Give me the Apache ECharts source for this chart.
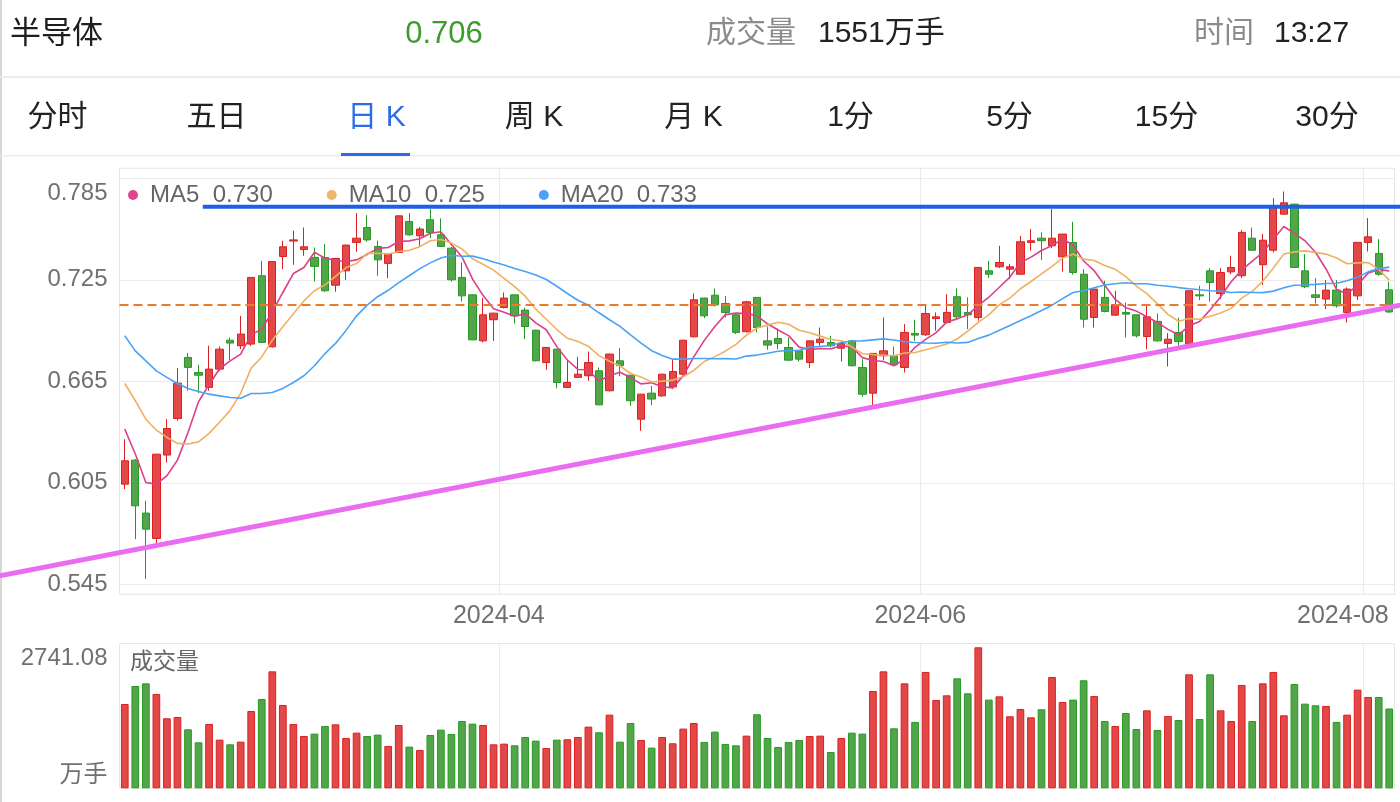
<!DOCTYPE html>
<html><head><meta charset="utf-8">
<script src="https://cdn.jsdelivr.net/npm/echarts@6/dist/echarts.min.js"></script>
<style>html,body{margin:0;padding:0;background:#fff;overflow:hidden}#c{width:1400px;height:802px}</style>
</head><body><div id="c"></div><script>
// ---- data ----
const dates = [
'2024-02-01','2024-02-02','2024-02-05','2024-02-06','2024-02-07','2024-02-08',
'2024-02-19','2024-02-20','2024-02-21','2024-02-22','2024-02-23','2024-02-26','2024-02-27','2024-02-28','2024-02-29',
'2024-03-01','2024-03-04','2024-03-05','2024-03-06','2024-03-07','2024-03-08','2024-03-11','2024-03-12','2024-03-13','2024-03-14','2024-03-15',
'2024-03-18','2024-03-19','2024-03-20','2024-03-21','2024-03-22','2024-03-25','2024-03-26','2024-03-27','2024-03-28','2024-03-29',
'2024-04-01','2024-04-02','2024-04-03','2024-04-08','2024-04-09','2024-04-10','2024-04-11','2024-04-12','2024-04-15','2024-04-16',
'2024-04-17','2024-04-18','2024-04-19','2024-04-22','2024-04-23','2024-04-24','2024-04-25','2024-04-26','2024-04-29','2024-04-30',
'2024-05-06','2024-05-07','2024-05-08','2024-05-09','2024-05-10','2024-05-13','2024-05-14','2024-05-15','2024-05-16','2024-05-17',
'2024-05-20','2024-05-21','2024-05-22','2024-05-23','2024-05-24','2024-05-27','2024-05-28','2024-05-29','2024-05-30','2024-05-31',
'2024-06-03','2024-06-04','2024-06-05','2024-06-06','2024-06-07','2024-06-11','2024-06-12','2024-06-13','2024-06-14','2024-06-17',
'2024-06-18','2024-06-19','2024-06-20','2024-06-21','2024-06-24','2024-06-25','2024-06-26','2024-06-27','2024-06-28',
'2024-07-01','2024-07-02','2024-07-03','2024-07-04','2024-07-05','2024-07-08','2024-07-09','2024-07-10','2024-07-11','2024-07-12',
'2024-07-15','2024-07-16','2024-07-17','2024-07-18','2024-07-19','2024-07-22','2024-07-23','2024-07-24','2024-07-25','2024-07-26',
'2024-07-29','2024-07-30','2024-07-31','2024-08-01','2024-08-02','2024-08-05'];

const opens = [0.6042,0.6184,0.5871,0.5721,0.6214,0.6430,0.6791,0.6702,0.6614,0.6722,
0.6893,0.6860,0.6870,0.7274,0.6854,0.7388,0.7479,0.7429,0.7382,0.7382,
0.7218,0.7303,0.7471,0.7559,0.7447,0.7347,0.7412,0.7595,0.7510,0.7605,
0.7516,0.7437,0.7264,0.7161,0.6889,0.7014,0.7086,0.7161,0.7071,0.6952,
0.6761,0.6840,0.6614,0.6673,0.6683,0.6712,0.6594,0.6771,0.6686,0.6426,
0.6580,0.6564,0.6617,0.6692,0.6913,0.7142,0.7159,0.7110,0.7043,0.6943,
0.7146,0.6889,0.6903,0.6850,0.6830,0.6761,0.6880,0.6880,0.6846,0.6889,
0.6732,0.6580,0.6801,0.6801,0.6732,0.6933,0.6925,0.7021,0.6998,0.7150,
0.7057,0.7027,0.7303,0.7327,0.7313,0.7283,0.7471,0.7496,0.7451,0.7386,
0.7471,0.7283,0.7027,0.7146,0.7041,0.7057,0.7043,0.6915,0.7004,0.6874,
0.6939,0.6870,0.7161,0.7303,0.7169,0.7297,0.7274,0.7496,0.7339,0.7425,
0.7638,0.7697,0.7303,0.7161,0.7136,0.7189,0.7057,0.7155,0.7471,0.7406,0.7191];

const closes = [0.6180,0.5914,0.5776,0.6219,0.6371,0.6639,0.6732,0.6686,0.6722,0.6840,
0.6876,0.6929,0.7264,0.6880,0.7358,0.7445,0.7486,0.7445,0.7329,0.7185,
0.7376,0.7455,0.7496,0.7486,0.7368,0.7402,0.7628,0.7516,0.7550,0.7530,
0.7447,0.7250,0.7155,0.6895,0.7043,0.7053,0.7142,0.7037,0.6974,0.6771,
0.6850,0.6643,0.6643,0.6692,0.6761,0.6511,0.6811,0.6742,0.6535,0.6574,
0.6545,0.6692,0.6708,0.6893,0.7132,0.7037,0.7102,0.7057,0.6939,0.7120,
0.6968,0.6864,0.6874,0.6775,0.6781,0.6889,0.6899,0.6860,0.6874,0.6742,
0.6574,0.6815,0.6830,0.6748,0.6939,0.6923,0.7051,0.7031,0.7057,0.7031,
0.7043,0.7323,0.7283,0.7352,0.7327,0.7475,0.7481,0.7481,0.7496,0.7520,
0.7293,0.7017,0.7195,0.7063,0.7102,0.7047,0.6919,0.7031,0.6889,0.6899,
0.6885,0.7185,0.7155,0.7234,0.7293,0.7323,0.7530,0.7425,0.7484,0.7682,
0.7705,0.7323,0.7209,0.7146,0.7189,0.7096,0.7195,0.7471,0.7504,0.7283,0.7060];

const lows = [0.6013,0.5717,0.5481,0.5687,0.6170,0.6417,0.6594,0.6580,0.6594,0.6710,
0.6775,0.6840,0.6860,0.6878,0.6850,0.7313,0.7339,0.7392,0.7240,0.7180,
0.7179,0.7250,0.7416,0.7475,0.7274,0.7260,0.7410,0.7510,0.7451,0.7496,
0.7445,0.7240,0.7122,0.6893,0.6880,0.6889,0.7081,0.6992,0.6899,0.6768,
0.6718,0.6608,0.6610,0.6669,0.6653,0.6509,0.6590,0.6679,0.6505,0.6357,
0.6509,0.6558,0.6604,0.6690,0.6910,0.7023,0.7092,0.7027,0.6929,0.6939,
0.6939,0.6836,0.6840,0.6770,0.6767,0.6728,0.6860,0.6850,0.6767,0.6738,
0.6558,0.6505,0.6775,0.6742,0.6702,0.6889,0.6919,0.6949,0.6992,0.7023,
0.6958,0.7008,0.7260,0.7319,0.7254,0.7280,0.7421,0.7366,0.7437,0.7299,
0.7280,0.6968,0.6968,0.7057,0.7037,0.6909,0.6909,0.6840,0.6885,0.6738,
0.6860,0.6860,0.7130,0.7122,0.7136,0.7283,0.7260,0.7423,0.7220,0.7412,
0.7634,0.7320,0.7201,0.7110,0.7077,0.7086,0.6998,0.7130,0.7417,0.7274,0.7055];

const highs = [0.6308,0.6190,0.5944,0.6222,0.6426,0.6728,0.6817,0.6748,0.6860,0.6856,
0.6909,0.7037,0.7266,0.7362,0.7360,0.7481,0.7540,0.7559,0.7441,0.7461,
0.7380,0.7457,0.7644,0.7632,0.7481,0.7405,0.7630,0.7644,0.7563,0.7668,
0.7613,0.7445,0.7352,0.7165,0.7142,0.7055,0.7175,0.7163,0.7086,0.6955,
0.6852,0.6842,0.6775,0.6795,0.6826,0.6732,0.6813,0.6846,0.6688,0.6576,
0.6623,0.6694,0.6775,0.6895,0.7169,0.7145,0.7199,0.7155,0.7045,0.7126,
0.7148,0.6974,0.6962,0.6909,0.6832,0.6891,0.6968,0.6919,0.6889,0.6895,
0.6781,0.6817,0.7027,0.6856,0.6988,0.7014,0.7106,0.7057,0.7165,0.7199,
0.7146,0.7325,0.7362,0.7451,0.7343,0.7510,0.7550,0.7530,0.7668,0.7522,
0.7593,0.7313,0.7197,0.7244,0.7185,0.7116,0.7045,0.7096,0.7051,0.6935,
0.7027,0.7187,0.7215,0.7319,0.7319,0.7392,0.7544,0.7559,0.7520,0.7733,
0.7772,0.7700,0.7402,0.7260,0.7248,0.7248,0.7205,0.7473,0.7615,0.7490,0.7240];

// volume, 万手
const volumes = [1639,1989,2041,1834,1361,1387,1147,894,1251,946,
855,907,1503,1737,2274,1620,1251,1017,1063,1212,
1244,978,1082,1017,1043,823,1231,810,745,1037,
1140,1056,1309,1257,1231,855,868,836,998,927,
784,946,953,998,1199,1089,1432,907,1270,940,
791,998,875,1160,1270,901,1102,862,836,1024,
1439,978,804,901,940,1017,1024,706,978,1082,
1063,1892,2274,1166,2041,1290,2262,1717,1808,2138,
1847,2741.08,1724,1788,1400,1542,1380,1536,2164,1678,
1724,2100,1795,1309,1212,1464,1153,1516,1134,1406,
1328,2216,1348,2216,1516,1309,2009,1309,2041,2262,
1419,2028,1646,1614,1601,1290,1432,1918,1776,1776,1551];

// moving-average values before a full window exists
const ma5Head  = [0.6367,0.6220,0.6052,0.6042];
const ma10Head = [0.6637,0.6535,0.6426,0.6361,0.6318,0.6283,0.6279,0.6292,0.6342];
const ma20Head = [0.6919,0.6830,0.6771,0.6712,0.6673,0.6637,0.6608,0.6590,0.6574,0.6564,
                  0.6554,0.6550,0.6578,0.6578,0.6584,0.6608,0.6643,0.6683,0.6742];

const priceTicks = [0.545,0.605,0.665,0.725,0.785];
const monthTicks = ['2024-04','2024-06','2024-08'];
const lastPrice = 0.706;
// drawn lines: [trading-day index, price]
const resistanceLine = [[7.4,0.7682],[121.2,0.7682]];
const supportLine    = [[-12.2,0.5496],[121.2,0.7102]];

// ---- build ----
const N = dates.length;
const FONT = '"Liberation Sans","Noto Sans CJK SC",sans-serif';
function maCalc(n, head){
  return closes.map((c,i)=>{
    if(i < n-1) return head[i];
    let s=0; for(let k=i-n+1;k<=i;k++) s+=closes[k];
    return +(s/n).toFixed(4);
  });
}
const ma5 = maCalc(5, ma5Head), ma10 = maCalc(10, ma10Head), ma20 = maCalc(20, ma20Head);
const lastMA = {MA5: ma5[N-1], MA10: ma10[N-1], MA20: ma20[N-1]};
const kData = dates.map((d,i)=>[opens[i],closes[i],lows[i],highs[i]]);
const RED='#e34848', RED_B='#dc1f1f', GREEN='#52a649', GREEN_B='#249a24';
const volData = volumes.map((v,i)=>({value:v, itemStyle:{color: closes[i]>=opens[i]?RED:GREEN, borderColor: closes[i]>=opens[i]?RED_B:GREEN_B}}));
const tickPos = monthTicks.map(m=>dates.findIndex(d=>d.startsWith(m)) - 0.5);
const maxVol = Math.max(...volumes);

const GRID_L = 119.5, GRID_R = 5.5;
const chart = echarts.init(document.getElementById('c'), null, {renderer:'canvas'});

const hdr = (text,x,y,size,fill,align)=>({type:'text', silent:true, style:{text, x, y, fill, fontSize:size, fontFamily:FONT, align:align||'left', verticalAlign:'middle'}});
const tabs = [['分时',57.5],['五日',216.5],['日 K',376.5],['周 K',534],['月 K',693.5],['1分',850.5],['5分',1009.5],['15分',1166.5],['30分',1327]];

chart.setOption({
  animation:false,
  backgroundColor:'#fff',
  textStyle:{fontFamily:FONT},
  legend:{
    data:['MA5','MA10','MA20'], left:123, top:178, icon:'circle', itemWidth:10, itemHeight:10, itemGap:54,
    selectedMode:false,
    textStyle:{fontSize:24, color:'#666', fontFamily:FONT, padding:[0,0,0,7]},
    formatter: n => n + '  ' + lastMA[n].toFixed(3)
  },
  grid:[
    {left:GRID_L, right:GRID_R, top:168.3, height:426, show:true, borderColor:'#e6e6e6', borderWidth:1, outerBoundsMode:'none', containLabel:false},
    {left:GRID_L, right:GRID_R, top:643.5, height:144.8, show:true, borderColor:'#e6e6e6', borderWidth:1, outerBoundsMode:'none', containLabel:false}
  ],
  xAxis:[
    {type:'category', gridIndex:0, data:dates, boundaryGap:true, show:false},
    {type:'value', gridIndex:0, min:-0.5, max:N-0.5, position:'bottom',
      axisLine:{show:false}, axisTick:{show:false, customValues:tickPos},
      axisLabel:{customValues:tickPos, fontSize:25, color:'#707070', margin:9, lineHeight:25, fontFamily:FONT,
        formatter:v=>{const idx=Math.round(v+0.5); const lbl=dates[idx].slice(0,7);
          return idx===Math.round(tickPos[tickPos.length-1]+0.5) ? '{r|'+lbl+'}' : lbl;},
        rich:{r:{fontSize:25, color:'#707070', fontFamily:FONT, padding:[0,40,0,0]}}},
      splitLine:{show:true, lineStyle:{color:'#ebebeb', width:1}}},
    {type:'category', gridIndex:1, data:dates, boundaryGap:true, show:false},
    {type:'value', gridIndex:1, min:-0.5, max:N-0.5, position:'bottom',
      axisLine:{show:false}, axisTick:{show:false, customValues:tickPos}, axisLabel:{show:false},
      splitLine:{show:true, lineStyle:{color:'#ebebeb', width:1}}}
  ],
  yAxis:[
    {type:'value', gridIndex:0, min:0.53909, max:0.79091, scale:true,
      axisLine:{show:false}, axisTick:{show:false, customValues:priceTicks},
      axisLabel:{customValues:priceTicks, fontSize:24, color:'#707070', margin:12, fontFamily:FONT,
        formatter:v=> Math.abs(v-priceTicks[priceTicks.length-1])<1e-6 ? '{t|'+v.toFixed(3)+'}' : v.toFixed(3),
        rich:{t:{fontSize:24, color:'#707070', fontFamily:FONT, padding:[30,0,0,0]}}},
      splitLine:{show:true, lineStyle:{color:'#ebebeb', width:1}}},
    {type:'value', gridIndex:1, min:0, max:maxVol*1.027,
      axisLine:{show:false}, axisTick:{show:false},
      axisLabel:{customValues:[0,maxVol], fontSize:24, color:'#707070', margin:12, fontFamily:FONT,
        formatter:v=> v===0 ? '{b|万手}' : '{t|'+v.toFixed(2)+'}',
        rich:{t:{fontSize:24, color:'#707070', fontFamily:FONT, padding:[22,0,0,0]},
              b:{fontSize:24, color:'#707070', fontFamily:FONT, padding:[0,0,25,0]}}},
      splitLine:{show:false}}
  ],
  series:[
    {name:'K', type:'candlestick', xAxisIndex:0, yAxisIndex:0, data:kData, barWidth:'74%', z:2,
      itemStyle:{color:RED, color0:GREEN, borderColor:RED_B, borderColor0:GREEN_B, borderWidth:1},
      markLine:{silent:true, symbol:['none','none'], label:{show:false}, z:5,
        lineStyle:{type:[9,5], color:'#ea7a2c', width:2}, data:[{yAxis:lastPrice}]}},
    {name:'MA5', type:'line', xAxisIndex:0, yAxisIndex:0, data:ma5, showSymbol:false, smooth:false, z:3,
      lineStyle:{color:'#dc3f8c', width:1.6}, itemStyle:{color:'#de478f'}},
    {name:'MA10', type:'line', xAxisIndex:0, yAxisIndex:0, data:ma10, showSymbol:false, smooth:false, z:3,
      lineStyle:{color:'#f0b062', width:1.6}, itemStyle:{color:'#f0b56d'}},
    {name:'MA20', type:'line', xAxisIndex:0, yAxisIndex:0, data:ma20, showSymbol:false, smooth:false, z:3,
      lineStyle:{color:'#4aa2f7', width:1.6}, itemStyle:{color:'#4ba3f7'}},
    {name:'VOL', type:'bar', xAxisIndex:2, yAxisIndex:1, data:volData, barWidth:'73%', itemStyle:{borderWidth:1}}
  ],
  graphic:[
    {id:'lb', type:'rect', silent:true, shape:{x:0,y:0,width:2,height:802}, style:{fill:'#d6d6d6'}},
    {id:'s1', type:'rect', silent:true, shape:{x:0,y:76,width:1400,height:2}, style:{fill:'#ececec'}},
    {id:'s2', type:'rect', silent:true, shape:{x:0,y:155,width:1400,height:1.5}, style:{fill:'#ececec'}},
    {id:'ul', type:'rect', silent:true, shape:{x:341,y:153,width:69,height:3}, style:{fill:'#2b6de6'}},
    hdr('半导体',10,34,31,'#1e1e1e'),
    hdr(closes[N-1].toFixed(3),444,34,31,'#3f9b2c','center'),
    hdr('成交量',706,34,30,'#8c8c8c'),
    hdr(Math.round(volumes[N-1])+'万手',818,34,30,'#222'),
    hdr('时间',1194,34,30,'#8c8c8c'),
    hdr('13:27',1274,34,30,'#222'),
    ...tabs.map(t=>hdr(t[0],t[1],118,30,t[0]==='日 K'?'#2b6de6':'#222','center')),
    hdr('成交量',130,663,23,'#666')
  ]
});

// drawn trend lines, placed through the chart's own axes
const finder = {xAxisIndex:1, yAxisIndex:0};
const seg = (id, pts, color, width) => {
  const a = chart.convertToPixel(finder, pts[0]);
  const b = chart.convertToPixel(finder, pts[1]);
  return {id, type:'line', silent:true, z:20, shape:{x1:a[0], y1:a[1], x2:b[0], y2:b[1]}, style:{stroke:color, lineWidth:width}};
};
chart.setOption({graphic:[
  seg('resist', resistanceLine, '#1f5fe3', 4),
  seg('support', supportLine, '#ea6cf0', 5)
]});
</script></body></html>
